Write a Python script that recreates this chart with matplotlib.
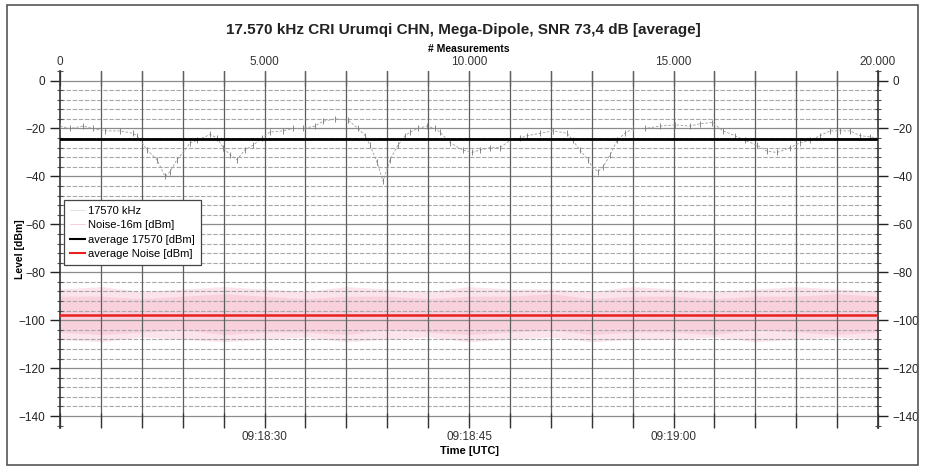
import matplotlib.pyplot as plt
from matplotlib.ticker import MultipleLocator, FixedLocator, FuncFormatter
from matplotlib.patches import Rectangle

plt.rcParams['font.family'] = ['Liberation Sans', 'DejaVu Sans']

# --- signal trace 17570 kHz (measurement index, level dBm) ---
sig_idx = [0, 245, 560, 800, 1100, 1470, 1785, 1880, 2130, 2370, 2570, 2690, 2860, 3010,
           3180, 3350, 3670, 3840, 3990, 4160, 4330, 4520, 4720, 4940, 5130, 5450, 5700,
           5940, 6230, 6430, 6720, 7040, 7290, 7460, 7580, 7750, 7900, 8070, 8260, 8440,
           8560, 8750, 8970, 9170, 9290, 9540, 9850, 10070, 10270, 10510, 10760, 11000,
           11250, 11420, 11740, 12050, 12400, 12540, 12710, 12910, 13010, 13150, 13280,
           13450, 13620, 13810, 14010, 14300, 14670, 15040, 15400, 15650, 15940, 16210,
           16500, 16750, 17040, 17290, 17530, 17850, 18090, 18340, 18580, 18830, 19070,
           19320, 19560, 19810, 19980]
sig_level = [-19, -20, -19, -20, -21, -21, -22, -23, -29, -33, -40, -38, -33, -30,
             -26, -25, -22.5, -24, -28, -31, -33, -29, -27, -24, -21.5, -21, -20,
             -20, -19, -17, -16, -16.5, -20, -23, -27, -34, -42, -33, -27, -23,
             -21.5, -20, -19, -20, -21.5, -26, -29, -30, -29, -28, -28, -25,
             -24, -23, -22, -21, -22, -25, -29, -33, -36, -38, -36,
             -31, -25, -22, -20, -20, -19, -18.5, -19, -18, -17.5, -21,
             -23, -25, -27, -29.5, -30, -28, -26, -25, -23, -21, -21,
             -21, -23, -23.5, -24]

# --- noise band envelope (every 1000 measurements) ---
noise_idx = list(range(0, 21000, 1000))
noise_top = [-87, -86, -88, -87, -86, -87, -88, -86, -87, -88, -86,
             -87, -87, -88, -86, -87, -88, -87, -86, -87, -88]
noise_bot = [-108, -109, -107, -108, -109, -108, -107, -109, -108, -107, -109,
             -108, -107, -109, -108, -108, -107, -109, -108, -107, -108]
noise_core_top = [-90, -90, -91, -90, -89, -90, -91, -90, -90, -91, -90,
                  -90, -89, -91, -90, -90, -91, -90, -90, -89, -90]
noise_core_bot = [-105, -106, -105, -104, -106, -105, -105, -106, -104, -105, -106,
                  -105, -104, -106, -105, -105, -106, -104, -105, -106, -105]

avg_signal = -24.3
avg_noise = -97.7

# --- axis labels ---
time_pos = [5000, 10000, 15000]
time_labels = ['09:18:30', '09:18:45', '09:19:00']
title = '17.570 kHz CRI Urumqi CHN, Mega-Dipole, SNR 73,4 dB [average]'

fig = plt.figure(figsize=(9.26, 4.67), dpi=100)
fig.patches.append(Rectangle((0.0076, 0.005), 0.984, 0.984, transform=fig.transFigure,
                             fill=False, edgecolor='#555555', lw=1.2))
ax = fig.add_axes([0.0648, 0.0835, 0.8834, 0.7645])

# noise band
ax.fill_between(noise_idx, noise_bot, noise_top, color='#f6b3c8', alpha=0.35, lw=0)
ax.fill_between(noise_idx, noise_core_bot, noise_core_top, color='#f29ab5', alpha=0.25, lw=0)

# signal trace
ax.plot(sig_idx, sig_level, color='#9a9a9a', lw=0.6, ls=(0, (3, 2)),
        marker='|', ms=5, mew=0.6, mec='#777777', zorder=3)

ax.axhline(avg_signal, color='black', lw=2.0, zorder=4)
ax.axhline(avg_noise, color='#e8201e', lw=1.8, zorder=4)

ax.set_xlim(0, 20000)
ax.set_ylim(-145, 4)

# grid
for y in range(0, -141, -4):
    if y % 20 == 0:
        ax.axhline(y, color='#8c8c8c', lw=0.9, zorder=1)
    else:
        ax.axhline(y, color='#a8a8a8', lw=0.8, ls=(0, (4, 1.5)), zorder=1)
for x in range(1000, 20000, 1000):
    ax.axvline(x, color='#5e5e5e', lw=0.9, zorder=1)

for s in ['top', 'bottom']:
    ax.spines[s].set_visible(False)
for s in ['left', 'right']:
    ax.spines[s].set_color('#333333')
    ax.spines[s].set_linewidth(1.2)

# y axes
ax.yaxis.set_major_locator(FixedLocator(list(range(0, -141, -20))))
ax.yaxis.set_minor_locator(MultipleLocator(4))
ax.tick_params(axis='y', which='major', direction='out', length=7, width=1,
               labelsize=8.5, left=True, right=True, labelleft=True, labelright=True,
               colors='#222222')
ax.tick_params(axis='y', which='minor', direction='inout', length=5, width=0.8,
               left=True, right=True, colors='#555555')
ax.set_ylabel('Level [dBm]', fontsize=7.5, fontweight='bold')
ax.yaxis.set_label_coords(-0.043, 0.5)

# bottom: time axis
ax.xaxis.set_major_locator(FixedLocator(time_pos))
ax.xaxis.set_minor_locator(MultipleLocator(1000))
ax.set_xticklabels(time_labels)
ax.tick_params(axis='x', which='both', direction='in', length=11, width=0.9,
               labelsize=8.5, pad=2, colors='#333333')
ax.set_xlabel('Time [UTC]', fontsize=8, fontweight='bold', labelpad=2)

# top: measurement count
top = ax.secondary_xaxis('top')
top.xaxis.set_major_locator(FixedLocator([0, 5000, 10000, 15000, 20000]))
top.xaxis.set_minor_locator(MultipleLocator(1000))
top.xaxis.set_major_formatter(FuncFormatter(lambda v, p: f'{int(v):,}'.replace(',', '.')))
top.tick_params(axis='x', which='both', direction='in', length=11, width=0.9,
                labelsize=8.5, pad=2, colors='#333333')
top.spines['top'].set_visible(False)
top.set_xlabel('# Measurements', fontsize=7.5, fontweight='bold', labelpad=3)

# legend
h1, = ax.plot([], [], color='#dddddd', lw=0.6)
h2, = ax.plot([], [], color='#f7c6d4', lw=0.6)
h3, = ax.plot([], [], color='black', lw=1.5)
h4, = ax.plot([], [], color='#e8201e', lw=1.5)
leg = ax.legend([h1, h2, h3, h4],
                ['17570 kHz', 'Noise-16m [dBm]', 'average 17570 [dBm]', 'average Noise [dBm]'],
                loc='upper left', bbox_to_anchor=(0.005, 0.64), fontsize=8,
                frameon=True, fancybox=False, handlelength=1.3, handletextpad=0.3,
                borderpad=0.55, labelspacing=0.4, borderaxespad=0)
leg.get_frame().set_edgecolor('#444444')
leg.get_frame().set_linewidth(0.9)
leg.get_frame().set_alpha(1)

fig.text(0.5, 0.935, title, ha='center', va='center', fontsize=11,
         fontweight='bold', color='#222222')

fig.savefig('out.png', dpi=100)
